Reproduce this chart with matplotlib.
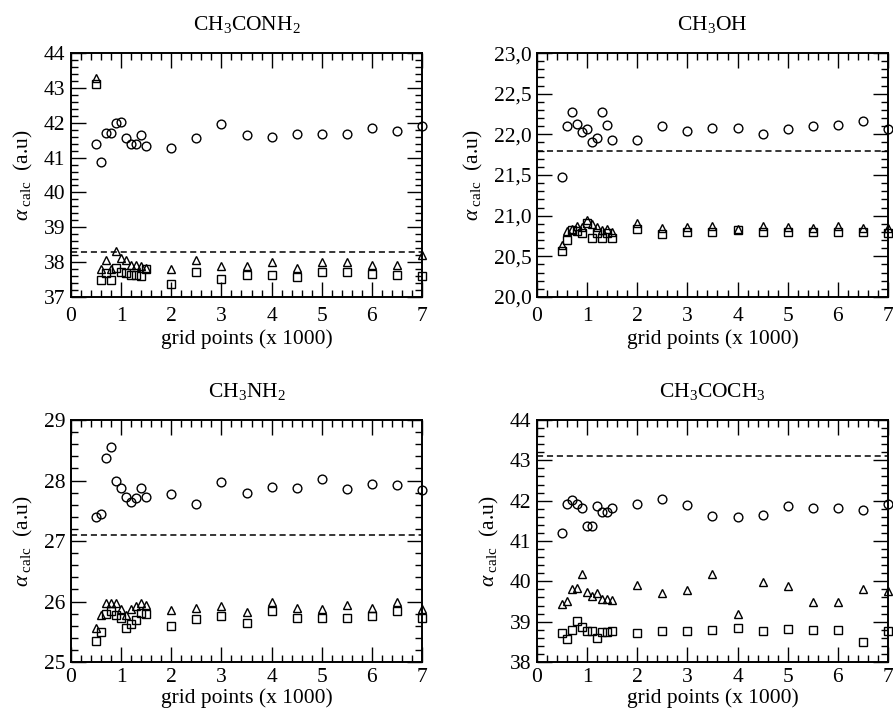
import numpy as np
import matplotlib
matplotlib.use("Agg")
import matplotlib.pyplot as plt
from matplotlib.ticker import MultipleLocator, FuncFormatter

plt.rcParams['font.family'] = ['Liberation Serif', 'DejaVu Serif']
plt.rcParams['mathtext.fontset'] = 'custom'
plt.rcParams['mathtext.rm'] = 'Liberation Serif'
plt.rcParams['mathtext.it'] = 'Liberation Serif:italic'
plt.rcParams['font.size'] = 15.5

# grid sizes (x 1000)
grid = [0.5, 0.6, 0.7, 0.8, 0.9, 1.0, 1.1, 1.2, 1.3, 1.4, 1.5,
        2.0, 2.5, 3.0, 3.5, 4.0, 4.5, 5.0, 5.5, 6.0, 6.5, 7.0]

# CH3CONH2
acetamide_circ = [41.39, 40.87, 41.70, 41.70, 41.99, 42.03, 41.55, 41.39, 41.39, 41.66, 41.32,
                  41.27, 41.57, 41.97, 41.65, 41.60, 41.68, 41.68, 41.68, 41.86, 41.77, 41.92]
acetamide_tri = [43.27, 37.79, 38.07, 37.79, 38.33, 38.13, 38.06, 37.93, 37.91, 37.89, 37.82,
                 37.81, 38.07, 37.89, 37.89, 37.99, 37.84, 38.01, 38.01, 37.93, 37.93, 38.20]
acetamide_sq = [43.12, 37.50, 37.70, 37.48, 37.84, 37.72, 37.69, 37.64, 37.64, 37.60, 37.79,
                37.38, 37.72, 37.53, 37.62, 37.64, 37.56, 37.72, 37.72, 37.67, 37.62, 37.60]
acetamide_ref = 38.28

# CH3OH
methanol_circ = [21.47, 22.10, 22.27, 22.13, 22.03, 22.07, 21.91, 21.95, 22.28, 22.12, 21.93,
                 21.93, 22.10, 22.04, 22.08, 22.08, 22.01, 22.06, 22.10, 22.12, 22.16, 22.06]
methanol_tri = [20.64, 20.81, 20.83, 20.87, 20.86, 20.95, 20.90, 20.86, 20.82, 20.83, 20.80,
                20.91, 20.85, 20.86, 20.87, 20.83, 20.87, 20.86, 20.85, 20.87, 20.85, 20.85]
methanol_sq = [20.57, 20.70, 20.82, 20.81, 20.79, 20.91, 20.73, 20.79, 20.73, 20.79, 20.73,
               20.84, 20.78, 20.80, 20.80, 20.82, 20.80, 20.80, 20.80, 20.80, 20.80, 20.79]
methanol_ref = 21.80

# CH3NH2
methylamine_circ = [27.39, 27.44, 28.37, 28.55, 28.00, 27.87, 27.73, 27.65, 27.71, 27.87, 27.73,
                    27.78, 27.61, 27.97, 27.79, 27.90, 27.88, 28.03, 27.86, 27.94, 27.93, 27.85]
methylamine_tri = [25.57, 25.77, 25.98, 25.98, 25.97, 25.87, 25.77, 25.87, 25.92, 25.97, 25.95,
                   25.86, 25.90, 25.92, 25.83, 25.99, 25.90, 25.87, 25.94, 25.90, 25.99, 25.87]
methylamine_sq = [25.35, 25.50, 25.79, 25.84, 25.77, 25.73, 25.57, 25.63, 25.69, 25.81, 25.80,
                  25.59, 25.71, 25.76, 25.65, 25.84, 25.72, 25.72, 25.72, 25.76, 25.84, 25.72]
methylamine_ref = 27.10

# CH3COCH3
acetone_circ = [41.19, 41.91, 42.01, 41.93, 41.81, 41.38, 41.37, 41.86, 41.72, 41.72, 41.83,
                41.93, 42.05, 41.89, 41.62, 41.60, 41.64, 41.86, 41.83, 41.83, 41.77, 41.93]
acetone_tri = [39.43, 39.52, 39.80, 39.83, 40.19, 39.74, 39.64, 39.70, 39.56, 39.57, 39.53,
               39.92, 39.70, 39.79, 40.17, 39.19, 39.98, 39.88, 39.49, 39.49, 39.80, 39.76]
acetone_sq = [38.71, 38.57, 38.80, 39.01, 38.86, 38.78, 38.76, 38.59, 38.74, 38.74, 38.76,
              38.71, 38.78, 38.78, 38.80, 38.84, 38.78, 38.82, 38.80, 38.80, 38.49, 38.78]
acetone_ref = 43.10

titles = [r'CH$_3$CONH$_2$', r'CH$_3$OH', r'CH$_3$NH$_2$', r'CH$_3$COCH$_3$']
ylims = [(37, 44), (20, 23), (25, 29), (38, 44)]
ymajor = [1, 0.5, 1, 1]
yminor = [0.2, 0.1, 0.2, 0.2]
comma_decimals = [False, True, False, False]

panels = [
    (acetamide_circ, acetamide_tri, acetamide_sq, acetamide_ref),
    (methanol_circ, methanol_tri, methanol_sq, methanol_ref),
    (methylamine_circ, methylamine_tri, methylamine_sq, methylamine_ref),
    (acetone_circ, acetone_tri, acetone_sq, acetone_ref),
]

fig = plt.figure(figsize=(8.93, 7.17), dpi=100)
boxes = [
    [0.0795, 0.5858, 0.3931, 0.3402],
    [0.6013, 0.5858, 0.3931, 0.3402],
    [0.0795, 0.0767, 0.3931, 0.3375],
    [0.6013, 0.0767, 0.3931, 0.3375],
]
# bottom row is squeezed against the lower edge of the figure
xtickpad = [7, 7, 4.5, 4.5]
xlabelpad = [2.5, 2.5, 1, 1]

mk = dict(linestyle='none', markerfacecolor='none', markeredgecolor='black',
          markeredgewidth=1.0, clip_on=False, zorder=3)

for i, (circ, tri, sq, ref) in enumerate(panels):
    ax = fig.add_axes(boxes[i])
    ax.axhline(ref, color='black', lw=1.1, ls=(0, (4, 2.5)), zorder=2)
    ax.plot(grid, sq, marker='s', markersize=5.3, **mk)
    ax.plot(grid, tri, marker='^', markersize=6, **mk)
    ax.plot(grid, circ, marker='o', markersize=6.3, **mk)

    ax.set_xlim(0, 7)
    ax.set_ylim(*ylims[i])
    ax.xaxis.set_major_locator(MultipleLocator(1))
    ax.xaxis.set_minor_locator(MultipleLocator(0.2))
    ax.yaxis.set_major_locator(MultipleLocator(ymajor[i]))
    ax.yaxis.set_minor_locator(MultipleLocator(yminor[i]))
    if comma_decimals[i]:
        ax.yaxis.set_major_formatter(
            FuncFormatter(lambda v, p: ('%.1f' % v).replace('.', ',')))
    ax.tick_params(which='both', direction='in', top=True, right=True,
                   width=1.0, labelsize=15.5)
    ax.tick_params(axis='x', pad=xtickpad[i])
    ax.tick_params(axis='y', pad=4)
    ax.tick_params(which='major', length=11)
    ax.tick_params(which='minor', length=5)
    for s in ax.spines.values():
        s.set_linewidth(1.4)

    ax.set_title(titles[i], fontsize=15.5, pad=16.5)
    ax.set_xlabel('grid points (x 1000)', fontsize=15.5, labelpad=xlabelpad[i])
    ax.set_ylabel(r'$\alpha_{\ \rm calc}$  (a.u)', fontsize=15.5, labelpad=6)

fig.savefig('out.png', dpi=100)
